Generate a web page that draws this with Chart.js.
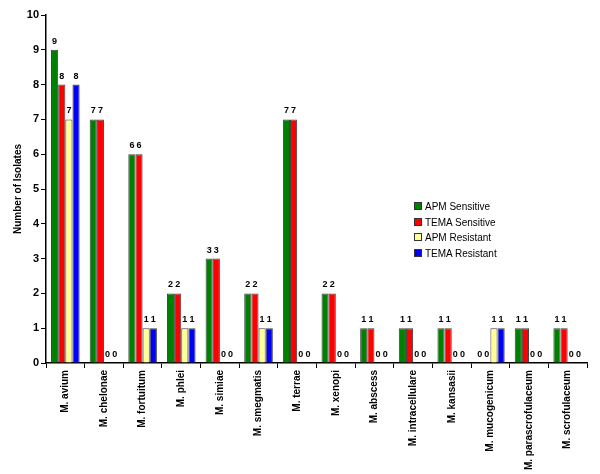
<!DOCTYPE html>
<html>
<head>
<meta charset="utf-8">
<script src="https://cdn.jsdelivr.net/npm/chart.js@4.4.0/dist/chart.umd.min.js"></script>
<style>
  html, body { margin: 0; padding: 0; background: #fff; }
  #wrap { position: relative; width: 600px; height: 474px; }
  #legend { position: absolute; left: 414px; top: 199px; font: 10px Arial, "Liberation Sans", sans-serif; color: #000; }
  #legend div { height: 15.5px; line-height: 15px; white-space: nowrap; }
  #legend span { display: inline-block; width: 6px; height: 6px; border: 1px solid #333; margin-right: 3px; vertical-align: 0px; }
</style>
</head>
<body>
<div id="wrap">
  <canvas id="myChart" width="600" height="474"></canvas>
  <div id="legend"></div>
</div>
<script>
var species = ["M. avium", "M. chelonae", "M. fortuitum", "M. phlei", "M. simiae", "M. smegmatis", "M. terrae",
  "M. xenopi", "M. abscess", "M. intracellulare", "M. kansasii", "M. mucogenicum", "M. parascrofulaceum", "M. scrofulaceum"];
var apmSensitive  = [9, 7, 6, 2, 3, 2, 7, 2, 1, 1, 1, 0, 1, 1];
var temaSensitive = [8, 7, 6, 2, 3, 2, 7, 2, 1, 1, 1, 0, 1, 1];
var apmResistant  = [7, 0, 1, 1, 0, 1, 0, 0, 0, 0, 0, 1, 0, 0];
var temaResistant = [8, 0, 1, 1, 0, 1, 0, 0, 0, 0, 0, 1, 0, 0];
var yTicks = [0, 1, 2, 3, 4, 5, 6, 7, 8, 9, 10];

var seriesNames = ["APM Sensitive", "TEMA Sensitive", "APM Resistant", "TEMA Resistant"];
var seriesColors = ["#008000", "#ff0000", "#ffff99", "#0000ff"];
var seriesData = [apmSensitive, temaSensitive, apmResistant, temaResistant];

// numbers above each bar
var valueLabels = {
  id: "valueLabels",
  afterDatasetsDraw: function (chart) {
    var ctx = chart.ctx;
    ctx.save();
    ctx.font = "bold 9px Arial";
    ctx.fillStyle = "#000";
    ctx.textAlign = "center";
    ctx.textBaseline = "bottom";
    chart.data.datasets.forEach(function (ds, i) {
      chart.getDatasetMeta(i).data.forEach(function (bar, j) {
        ctx.fillText(ds.data[j], bar.x, bar.y - 4);
      });
    });
    ctx.restore();
  }
};

var legend = document.getElementById("legend");
seriesNames.forEach(function (name, i) {
  var row = document.createElement("div");
  row.innerHTML = '<span style="background:' + seriesColors[i] + '"></span>' + name;
  legend.appendChild(row);
});

var ctx = document.getElementById("myChart").getContext("2d");
var myChart = new Chart(ctx, {
  type: "bar",
  data: {
    labels: species,
    datasets: seriesData.map(function (d, i) {
      return {
        label: seriesNames[i],
        data: d,
        backgroundColor: seriesColors[i],
        borderColor: "#404040",
        borderWidth: 1,
        categoryPercentage: 0.74,
        barPercentage: 1.0
      };
    })
  },
  options: {
    responsive: false,
    animation: false,
    layout: { padding: { top: 15, right: 13, left: 10, bottom: 0 } },
    plugins: {
      legend: { display: false },
      tooltip: { enabled: false }
    },
    scales: {
      x: {
        grid: { display: true, drawOnChartArea: false, offset: true, color: "#000", tickLength: 5, lineWidth: 1 },
        border: { color: "#000", width: 1.5 },
        ticks: {
          color: "#000",
          font: { family: "Arial", size: 10, weight: "bold" },
          minRotation: 90,
          maxRotation: 90,
          autoSkip: false,
          padding: 2
        },
        afterFit: function (scale) { scale.height = 111; }
      },
      y: {
        min: 0,
        max: 10,
        afterBuildTicks: function (scale) {
          scale.ticks = yTicks.map(function (v) { return { value: v }; });
        },
        grid: { display: true, drawOnChartArea: false, color: "#000", tickLength: 5 },
        border: { color: "#000", width: 1.5 },
        ticks: {
          color: "#000",
          font: { family: "Arial", size: 11, weight: "bold" },
          padding: 2
        },
        title: {
          display: true,
          text: "Number of Isolates",
          color: "#000",
          font: { family: "Arial", size: 10, weight: "bold" },
          padding: 2
        },
        afterFit: function (scale) { scale.width = 36; }
      }
    }
  },
  plugins: [valueLabels]
});
</script>
</body>
</html>
